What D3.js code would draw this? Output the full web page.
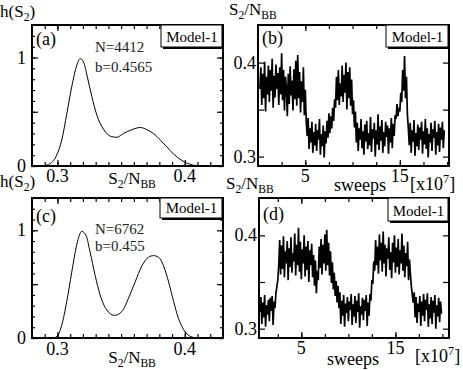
<!DOCTYPE html>
<html><head><meta charset="utf-8">
<script src="https://cdn.jsdelivr.net/npm/d3@7"></script>
<style>
body{margin:0;background:#fff}
svg{display:block}
</style>
</head><body>
<svg id="c" width="463" height="370"></svg>
<script>
// ---------- DATA ----------
const histAx = [0.286,0.290,0.294,0.2994,0.3034,0.3073,0.3112,0.3152,0.3178,0.3204,0.3235,0.327,0.3309,0.3361,0.3427,0.3466,0.3518,0.3584,0.365,0.3702,0.3754,0.3807,0.386,0.3912,0.3978,0.4043,0.412,0.418];
const histAy = [0,0.005,0.02,0.10,0.24,0.48,0.73,0.93,0.99,0.96,0.82,0.64,0.47,0.34,0.27,0.265,0.30,0.335,0.355,0.335,0.30,0.24,0.175,0.11,0.05,0.015,0,0];
const histCx = [0.2975,0.3005,0.3034,0.3073,0.3112,0.3152,0.3191,0.3225,0.3256,0.3296,0.3335,0.3387,0.3448,0.3505,0.3558,0.361,0.3663,0.3715,0.3754,0.3794,0.3833,0.3873,0.3912,0.3951,0.399,0.4043,0.41];
const histCy = [0,0.03,0.12,0.34,0.61,0.87,0.99,0.95,0.80,0.58,0.40,0.26,0.21,0.245,0.37,0.52,0.67,0.75,0.765,0.75,0.67,0.52,0.34,0.18,0.08,0.015,0];

const sweepStartB = 0.2, sweepStartD = 0.6, sweepStep = 0.1;
const seriesB = [
0.372,0.395,0.355,0.388,0.362,0.401,0.348,0.385,0.366,0.397,
0.358,0.392,0.370,0.404,0.352,0.386,0.363,0.398,0.372,0.389,
0.355,0.395,0.366,0.410,0.360,0.392,0.349,0.385,0.374,0.343,
0.388,0.356,0.396,0.365,0.381,0.349,0.393,0.361,0.402,0.354,
0.408,0.362,0.390,0.347,0.380,0.358,0.395,0.344,0.371,0.338,
0.322,0.341,0.308,0.330,0.315,0.337,0.304,0.326,0.312,0.335,
0.306,0.328,0.318,0.340,0.302,0.324,0.311,0.333,0.299,0.327,
0.314,0.338,0.320,0.346,0.325,0.343,0.330,0.352,0.338,0.361,
0.352,0.385,0.360,0.392,0.355,0.378,0.364,0.397,0.358,0.387,
0.368,0.400,0.350,0.390,0.362,0.395,0.354,0.382,0.345,0.360,
0.331,0.348,0.315,0.336,0.306,0.330,0.318,0.340,0.309,0.327,
0.302,0.334,0.316,0.338,0.308,0.325,0.312,0.342,0.305,0.329,
0.319,0.336,0.300,0.328,0.313,0.345,0.307,0.332,0.317,0.339,
0.304,0.326,0.311,0.337,0.321,0.333,0.303,0.330,0.315,0.341,
0.309,0.335,0.322,0.344,0.340,0.356,0.343,0.352,0.348,0.368,
0.358,0.392,0.370,0.407,0.362,0.385,0.345,0.330,0.312,0.336,
0.304,0.328,0.316,0.339,0.301,0.325,0.311,0.334,0.307,0.331,
0.318,0.337,0.303,0.327,0.313,0.340,0.308,0.330,0.299,0.324,
0.315,0.336,0.306,0.329,0.320,0.338,0.302,0.326,0.312,0.335,
0.305,0.331,0.318,0.337,0.309,0.328];
const seriesD = [
0.318,0.334,0.305,0.328,0.312,0.336,0.302,0.325,0.315,0.331,
0.308,0.333,0.319,0.335,0.304,0.329,0.322,0.338,0.345,0.352,
0.368,0.395,0.358,0.389,0.364,0.399,0.355,0.383,0.370,0.394,
0.352,0.386,0.366,0.398,0.360,0.381,0.372,0.402,0.357,0.390,
0.368,0.408,0.361,0.393,0.353,0.385,0.370,0.400,0.356,0.388,
0.363,0.394,0.350,0.384,0.368,0.391,0.355,0.379,0.346,0.373,
0.338,0.362,0.352,0.388,0.365,0.396,0.358,0.390,0.370,0.401,
0.362,0.406,0.368,0.392,0.357,0.383,0.349,0.371,0.342,0.360,
0.335,0.351,0.328,0.346,0.322,0.339,0.305,0.330,0.314,0.336,
0.302,0.327,0.317,0.334,0.308,0.329,0.320,0.337,0.304,0.326,
0.313,0.335,0.306,0.330,0.318,0.338,0.301,0.324,0.315,0.333,
0.309,0.331,0.319,0.336,0.303,0.328,0.314,0.337,0.330,0.352,
0.348,0.372,0.362,0.395,0.368,0.388,0.359,0.401,0.373,0.392,
0.361,0.404,0.370,0.390,0.356,0.386,0.375,0.398,0.363,0.382,
0.354,0.392,0.371,0.400,0.360,0.387,0.366,0.396,0.358,0.384,
0.370,0.402,0.362,0.389,0.355,0.381,0.367,0.393,0.352,0.374,
0.358,0.345,0.336,0.328,0.339,0.312,0.334,0.306,0.327,0.318,
0.335,0.303,0.329,0.314,0.337,0.308,0.331,0.320,0.338,0.302,
0.326,0.311,0.334,0.305,0.330,0.317,0.336,0.300,0.325,0.313,
0.333,0.307,0.329,0.316];

const hTickValues = [0,1], hTickLabels = ["0","1"];
const hMinor = [0,0.1,0.2,0.3,0.4,0.5,0.6,0.7,0.8,0.9,1.0,1.1,1.2], hMajor = [0,0.5,1];
const sTickValues = [0.3,0.4], sTickLabels = ["0.3","0.4"];
const sMinorX = [0.29,0.30,0.31,0.32,0.33,0.34,0.35,0.36,0.37,0.38,0.39,0.40,0.41,0.42];
const sMajorY = [0.3,0.35,0.4];
const sweepTickValues = [5,15], sweepTickLabels = ["5","15"];
const sweepMinor = [2.5,5,7.5,10,12.5,15,17.5,20];
const infoA = ["N=4412","b=0.4565"], infoC = ["N=6762","b=0.455"];
const panelLetters = ["(a)","(b)","(c)","(d)"];
const modelLabel = "Model-1";

// ---------- DRAW ----------
const FONT = "'Times New Roman', 'Liberation Serif', Tinos, serif";
const svg = d3.select("#c");
const P = {
  a:{l:32,r:223,t:25,b:166},
  b:{l:258,r:449,t:25,b:166},
  c:{l:32,r:223,t:198,b:338},
  d:{l:259,r:449,t:198,b:338}
};
const xA = d3.scaleLinear([0.28,0.43],[P.a.l,P.a.r]);
const yA = d3.scaleLinear([0,1.3],[P.a.b,P.a.t]);
const xC = d3.scaleLinear([0.28,0.43],[P.c.l,P.c.r]);
const yC = d3.scaleLinear([0,1.3],[P.c.b,P.c.t]);
const xB = d3.scaleLinear([0,20.2],[P.b.l,P.b.r]);
const yB = d3.scaleLinear([0.29,0.44],[P.b.b,P.b.t]);
const xD = d3.scaleLinear([0.5,20.7],[P.d.l,P.d.r]);
const yD = d3.scaleLinear([0.29,0.44],[P.d.b,P.d.t]);

function txt(x,y,s,size,anchor,fill){
  return svg.append("text").attr("x",x).attr("y",y).style("font-family",FONT).attr("font-size",size)
    .attr("text-anchor",anchor||"start").attr("fill",fill||"#000").text(s);
}
function rich(x, y, parts, size, anchor){
  const t = svg.append("text").attr("x",x).attr("y",y).style("font-family",FONT).attr("font-size",size).attr("text-anchor",anchor||"start").attr("fill","#000");
  let shift = 0;
  parts.forEach(p=>{
    const s = t.append("tspan").text(p.t);
    let target = p.sub ? 4 : (p.sup ? -7 : 0);
    s.attr("dy", target - shift);
    shift = target;
    if(p.sub||p.sup) s.attr("font-size", size*0.68);
  });
  return t;
}
const S2N = [{t:"S"},{t:"2",sub:true},{t:"/N"},{t:"BB",sub:true}];
const H2 = [{t:"h(S"},{t:"2",sub:true},{t:")"}];
const X10 = [{t:"[x10"},{t:"7",sup:true},{t:"]"}];

function ticksOf(p, x, y, xMinor, xMajor, yMinor, yMajor){
  const g = svg.append("g");
  const add = (axis, tr)=>{ const a = g.append("g").attr("transform",tr).call(axis); a.select(".domain").remove(); a.selectAll("line").attr("stroke","#000").attr("stroke-width",1.2); };
  if(xMinor){
    add(d3.axisBottom(x).tickValues(xMinor).tickSize(-4).tickFormat(""), `translate(0,${p.b})`);
    add(d3.axisTop(x).tickValues(xMinor).tickSize(-4).tickFormat(""), `translate(0,${p.t})`);
  }
  if(xMajor){
    add(d3.axisBottom(x).tickValues(xMajor).tickSize(-6).tickFormat(""), `translate(0,${p.b})`);
    add(d3.axisTop(x).tickValues(xMajor).tickSize(-6).tickFormat(""), `translate(0,${p.t})`);
  }
  if(yMinor){
    add(d3.axisLeft(y).tickValues(yMinor).tickSize(-3).tickFormat(""), `translate(${p.l},0)`);
    add(d3.axisRight(y).tickValues(yMinor).tickSize(-3).tickFormat(""), `translate(${p.r},0)`);
  }
  if(yMajor){
    add(d3.axisLeft(y).tickValues(yMajor).tickSize(-6).tickFormat(""), `translate(${p.l},0)`);
    add(d3.axisRight(y).tickValues(yMajor).tickSize(-6).tickFormat(""), `translate(${p.r},0)`);
  }
}

function clip(id,p){
  svg.append("clipPath").attr("id",id).append("rect").attr("x",p.l).attr("y",p.t).attr("width",p.r-p.l).attr("height",p.b-p.t);
}
function frameBox(p){
  svg.append("rect").attr("x",p.l).attr("y",p.t).attr("width",p.r-p.l).attr("height",p.b-p.t)
    .attr("fill","none").attr("stroke","#000").attr("stroke-width",2);
}
function legend(p, w, h, id){
  const g = svg.append("g").attr("clip-path",`url(#${id})`);
  const x0 = p.r - w, y0 = p.t;
  g.append("rect").attr("x",x0+2).attr("y",y0+2).attr("width",w).attr("height",h).attr("fill","#000");
  g.append("rect").attr("x",x0).attr("y",y0).attr("width",w-1).attr("height",h).attr("fill","#fff").attr("stroke","#000").attr("stroke-width",1);
  g.append("text").attr("x",x0+w/2).attr("y",y0+h-5).attr("text-anchor","middle").style("font-family",FONT).attr("font-size",15).text(modelLabel);
}

Object.keys(P).forEach(k=>clip("clip-"+k,P[k]));

ticksOf(P.a, xA, yA, sMinorX, sTickValues, hMinor, hMajor);
svg.append("path").datum(histAx.map((v,i)=>[v,histAy[i]])).attr("clip-path","url(#clip-a)")
  .attr("fill","none").attr("stroke","#000").attr("stroke-width",1)
  .attr("d", d3.line().x(d=>xA(d[0])).y(d=>yA(d[1])).curve(d3.curveMonotoneX));
ticksOf(P.c, xC, yC, sMinorX, sTickValues, hMinor, hMajor);
svg.append("path").datum(histCx.map((v,i)=>[v,histCy[i]])).attr("clip-path","url(#clip-c)")
  .attr("fill","none").attr("stroke","#000").attr("stroke-width",1)
  .attr("d", d3.line().x(d=>xC(d[0])).y(d=>yC(d[1])).curve(d3.curveMonotoneX));
ticksOf(P.b, xB, yB, sweepMinor, sweepTickValues, null, sMajorY);
svg.append("path").datum(seriesB).attr("clip-path","url(#clip-b)")
  .attr("fill","none").attr("stroke","#000").attr("stroke-width",1.7)
  .attr("d", d3.line().x((d,i)=>xB(sweepStartB+i*sweepStep)).y(d=>yB(d)));
ticksOf(P.d, xD, yD, sweepMinor, sweepTickValues, null, sMajorY);
svg.append("path").datum(seriesD).attr("clip-path","url(#clip-d)")
  .attr("fill","none").attr("stroke","#000").attr("stroke-width",1.7)
  .attr("d", d3.line().x((d,i)=>xD(sweepStartD+i*sweepStep)).y(d=>yD(d)));

Object.keys(P).forEach(k=>frameBox(P[k]));
legend(P.a, 62, 22, "clip-a");
legend(P.b, 63, 22, "clip-b");
legend(P.c, 63, 20, "clip-c");
legend(P.d, 61, 23, "clip-d");

[[P.a,panelLetters[0],45],[P.b,panelLetters[1],44],[P.c,panelLetters[2],222],[P.d,panelLetters[3],220]].forEach(([p,t,yy])=>{
  txt(p.l+4, yy, t, 18);
});
txt(95,52,infoA[0],15,"start","#222");
txt(95,72,infoA[1],15,"start","#222");
txt(95,234,infoC[0],15,"start","#222");
txt(95,251,infoC[1],15,"start","#222");

hTickValues.forEach((v,i)=>{
  txt(26, yA(v)+6, hTickLabels[i], 18, "end");
  txt(26, yC(v)+6, hTickLabels[i], 18, "end");
});
sTickValues.forEach((v,i)=>{
  txt(256, yB(v)+6, sTickLabels[i], 18, "end");
  txt(257, yD(v)+6, sTickLabels[i], 18, "end");
});
sTickValues.forEach((v,i)=>{
  txt(xA(v), 182, sTickLabels[i], 18, "middle");
  txt(xC(v), 355, sTickLabels[i], 18, "middle");
});
sweepTickValues.forEach((v,i)=>{
  txt(xB(v), 182, sweepTickLabels[i], 18, "middle");
  txt(xD(v), 354, sweepTickLabels[i], 18, "middle");
});

rich(0,17,H2,17);
rich(0,187,H2,17);
rich(229,15,S2N,17);
rich(226,189,S2N,17);
rich(132,184,S2N,17,"middle");
rich(132,363,S2N,17,"middle");
txt(360,191,"sweeps",18,"middle");
txt(353,365,"sweeps",18,"middle");
rich(410,190,X10,18);
rich(415,362,X10,18);
</script>
</body></html>
